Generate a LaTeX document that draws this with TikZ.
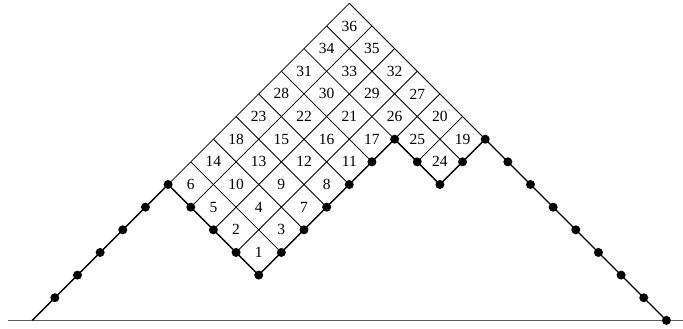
\documentclass[tikz,border=0pt]{standalone}
\usepackage{fontspec}
\setmainfont{Liberation Serif}
\begin{document}
\begin{tikzpicture}[x=1pt,y=1pt,
  cellgrid/.style={line width=0.8pt},
  pathline/.style={line width=1.3pt},
  dotnode/.style={circle,fill=black,inner sep=0pt,minimum size=9pt},
  lbl/.style={font=\fontsize{15.5}{18}\selectfont,inner sep=0pt},
  baseline/.style={line width=1pt,black!65}]
\useasboundingbox (0,0) rectangle (683,329);
\coordinate (bl) at (8.3,8.5);
\coordinate (br) at (683,8.5);
\draw[baseline] (bl) -- (br);
\begin{scope}[shift={(258.7,53.9)},x={(-22.65pt,22.65pt)},y={(22.65pt,22.65pt)}]
  % grid of cells
  \foreach \a in {0,...,4} \draw[cellgrid] (\a,0) -- (\a,8);
  \draw[cellgrid] (-1,6) -- (-1,8);
  \draw[cellgrid] (-2,6) -- (-2,8);
  \foreach \b in {0,...,5} \draw[cellgrid] (0,\b) -- (4,\b);
  \foreach \b in {6,7,8} \draw[cellgrid] (-2,\b) -- (4,\b);
  % labels
  \foreach \a/\b/\n in {0/0/1,1/0/2,0/1/3,1/1/4,2/0/5,3/0/6,0/2/7,0/3/8,1/2/9,2/1/10,
     0/4/11,1/3/12,2/2/13,3/1/14,2/3/15,1/4/16,0/5/17,3/2/18,-2/7/19,-1/7/20,
     1/5/21,2/4/22,3/3/23,-2/6/24,-1/6/25,0/6/26,0/7/27,3/4/28,1/6/29,2/5/30,
     3/5/31,1/7/32,2/6/33,3/6/34,2/7/35,3/7/36}
    \node[lbl] (c\n) at (\a+0.5,\b+0.5) {\n};
  % path of dots
  \coordinate (s0) at (4,-6);
  \foreach \a/\b [count=\i] in {4/-5,4/-4,4/-3,4/-2,4/-1,4/0,3/0,2/0,1/0,0/0,
     0/1,0/2,0/3,0/4,0/5,0/6,-1/6,-2/6,-2/7,-2/8,
     -3/8,-4/8,-5/8,-6/8,-7/8,-8/8,-9/8,-10/8}
    \node[dotnode] (d\i) at (\a,\b) {};
  \draw[pathline] (s0) -- (d1.center);
  \foreach \i [evaluate=\i as \j using int(\i-1)] in {2,...,28}
    \draw[pathline] (d\j.center) -- (d\i.center);
\end{scope}
\end{tikzpicture}
\end{document}
